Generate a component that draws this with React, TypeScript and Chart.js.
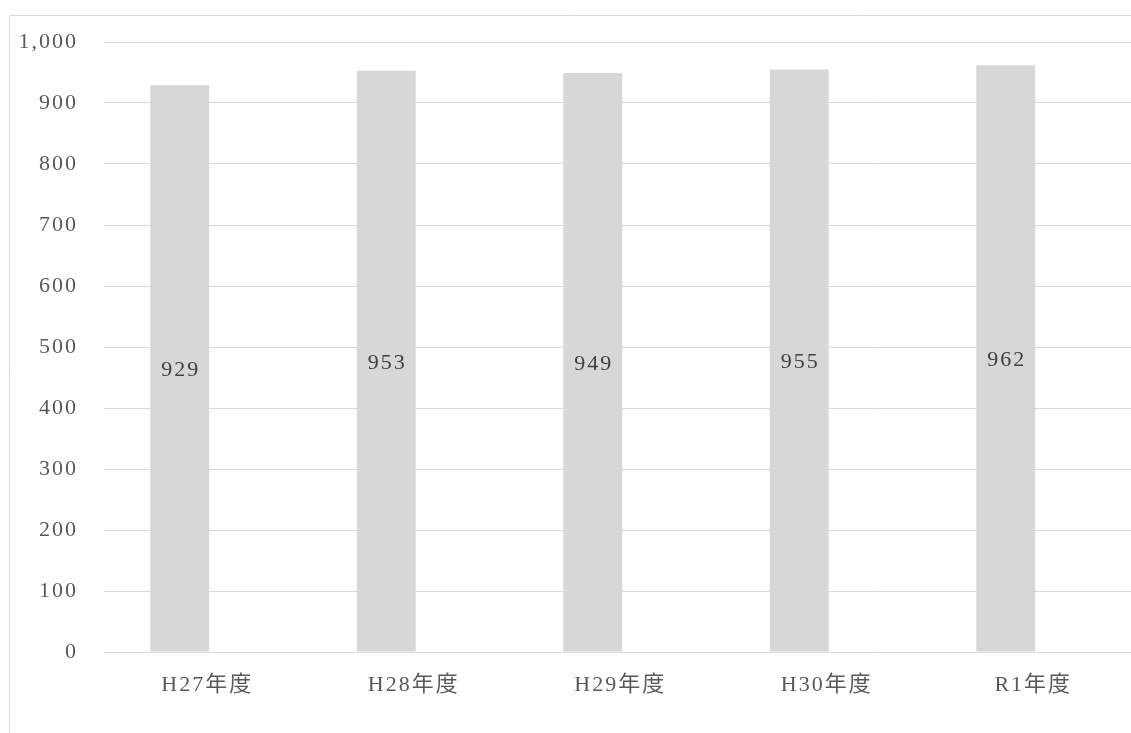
import React, { useEffect, useRef } from "react";
import { Chart, registerables } from "chart.js";

Chart.register(...registerables);

const categories = ["H27年度", "H28年度", "H29年度", "H30年度", "R1年度"];
const values = [929, 953, 949, 955, 962];
const emptySeries = [null, null, null, null, null];
const yTicks = [0, 100, 200, 300, 400, 500, 600, 700, 800, 900, 1000];

const FONT = "'Liberation Serif', 'Noto Sans CJK JP', serif";

const spacingPlugin = {
  id: "spacing",
  beforeLayout(chart: any) {
    chart.ctx.letterSpacing = "2px";
  },
  beforeDraw(chart: any) {
    chart.ctx.letterSpacing = "2px";
  },
};

const framePlugin = {
  id: "frame",
  beforeDraw(chart: any) {
    const ctx = chart.ctx;
    ctx.save();
    ctx.strokeStyle = "#d9d9d9";
    ctx.lineWidth = 1;
    ctx.beginPath();
    ctx.moveTo(9.5, chart.height);
    ctx.lineTo(9.5, 15.5);
    ctx.lineTo(chart.width, 15.5);
    ctx.stroke();
    ctx.restore();
  },
};

const labelPlugin = {
  id: "barLabels",
  afterDatasetsDraw(chart: any) {
    const ctx = chart.ctx;
    const meta = chart.getDatasetMeta(0);
    ctx.save();
    ctx.fillStyle = "#404040";
    ctx.font = `22px ${FONT}`;
    ctx.letterSpacing = "2px";
    ctx.textAlign = "center";
    ctx.textBaseline = "middle";
    meta.data.forEach((bar: any, i: number) => {
      const v = values[i];
      const y = (bar.y + bar.base) / 2 + 2;
      ctx.fillText(String(v), bar.x + 1, y);
    });
    ctx.restore();
  },
};

export default function App() {
  const ref = useRef<HTMLCanvasElement>(null);
  useEffect(() => {
    if (!ref.current) return;
    const chart = new Chart(ref.current, {
      type: "bar",
      data: {
        labels: categories,
        datasets: [
          {
            data: values,
            backgroundColor: "#d7d7d7",
            categoryPercentage: 0.533,
            barPercentage: 1.07,
          },
          {
            data: emptySeries as any,
            backgroundColor: "#a5a5a5",
            categoryPercentage: 0.533,
            barPercentage: 1.07,
          },
        ],
      },
      options: {
        animation: false,
        responsive: false,
        layout: { padding: { top: 42, right: 3.5, left: 0, bottom: 0 } },
        plugins: {
          legend: { display: false },
          tooltip: { enabled: false },
        },
        scales: {
          x: {
            grid: { display: false, drawTicks: false },
            border: { display: false },
            ticks: {
              color: "#595959",
              font: { family: FONT, size: 22 },
              padding: 20,
              maxRotation: 0,
            },
            afterFit: (s: any) => {
              s.height = 81;
            },
          },
          y: {
            min: 0,
            max: 1000,
            afterBuildTicks: (s: any) => {
              s.ticks = yTicks.map((v) => ({ value: v }));
            },
            grid: { color: "#d9d9d9", lineWidth: 1, drawTicks: false },
            border: { display: false },
            ticks: {
              color: "#595959",
              font: { family: FONT, size: 22 },
              padding: 26,
              callback: (v: any) => Number(v).toLocaleString("en-US"),
            },
            afterFit: (s: any) => {
              s.width = 104;
            },
          },
        },
      },
      plugins: [spacingPlugin, framePlugin, labelPlugin],
    });
    return () => chart.destroy();
  }, []);
  return (
    <div style={{ position: "fixed", left: 0, top: 0, width: 1131, height: 733, overflow: "hidden", background: "#fff" }}>
      <canvas ref={ref} width={1140} height={733} style={{ display: "block" }} />
    </div>
  );
}
